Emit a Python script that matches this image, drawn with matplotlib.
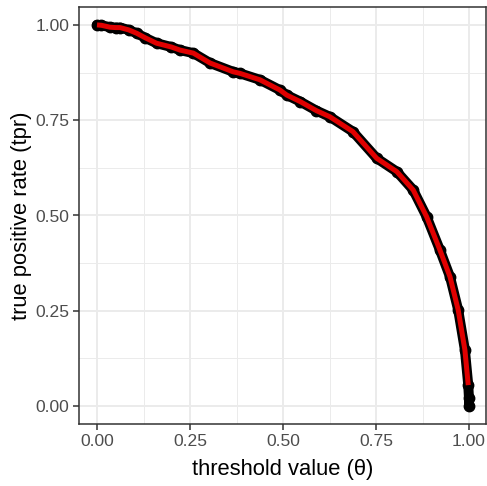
import matplotlib
matplotlib.use("Agg")
import matplotlib.pyplot as plt
import numpy as np

# threshold sweep: theta vs true positive rate
theta = [0.0, 0.012, 0.035, 0.05, 0.062, 0.085, 0.107, 0.13, 0.16, 0.2,
         0.223, 0.259, 0.304, 0.366, 0.384, 0.438, 0.492, 0.51, 0.546, 0.59,
         0.626, 0.688, 0.752, 0.806, 0.85, 0.886, 0.922, 0.949, 0.971, 0.989,
         0.998, 1.0, 1.0]
tpr = [1.0, 0.999, 0.994, 0.993, 0.993, 0.987, 0.978, 0.966, 0.952, 0.942,
       0.934, 0.926, 0.900, 0.877, 0.873, 0.856, 0.829, 0.816, 0.799, 0.775,
       0.759, 0.720, 0.650, 0.615, 0.567, 0.497, 0.409, 0.339, 0.252, 0.147,
       0.055, 0.02, 0.0]

# fitted curve stops where tpr drops below 0.05
fit_theta = [t for t, r in zip(theta, tpr) if r >= 0.05]
fit_tpr = [r for r in tpr if r >= 0.05]

ticks = [0.0, 0.25, 0.5, 0.75, 1.0]
tick_labels = ["0.00", "0.25", "0.50", "0.75", "1.00"]

plt.rcParams["font.family"] = ["Liberation Sans", "DejaVu Sans"]

fig = plt.figure(figsize=(4.87, 4.86), dpi=100)
ax = fig.add_axes([79 / 487, 1 - 424 / 486, 407 / 487, 417 / 486])

ax.plot(theta, tpr, color="black", lw=7.2, marker="o", ms=7.5,
        solid_capstyle="round", solid_joinstyle="round", zorder=3)
ax.plot(fit_theta, fit_tpr, color="#E00000", lw=3.6,
        solid_capstyle="butt", solid_joinstyle="round", zorder=4)

ax.set_xlim(-0.0484, 1.0457)
ax.set_ylim(-0.047, 1.047)
ax.set_xticks(ticks)
ax.set_xticklabels(tick_labels)
ax.set_yticks(ticks)
ax.set_yticklabels(tick_labels)
ax.set_xticks([0.125, 0.375, 0.625, 0.875], minor=True)
ax.set_yticks([0.125, 0.375, 0.625, 0.875], minor=True)

ax.grid(which="major", color="#EBEBEB", lw=1.4, zorder=0)
ax.grid(which="minor", color="#EBEBEB", lw=0.7, zorder=0)
ax.set_axisbelow(True)
ax.tick_params(which="major", length=4, width=1.1, color="#333333",
               labelsize=12.6, labelcolor="#4D4D4D", pad=3)
ax.tick_params(which="minor", length=0)
for s in ax.spines.values():
    s.set_color("#333333")
    s.set_linewidth(1.1)

ax.set_xlabel("threshold value (θ)", fontsize=15.8, labelpad=7.5)
ax.set_ylabel("true positive rate (tpr)", fontsize=15.8, labelpad=2.5)

fig.savefig("out.png", dpi=100)
